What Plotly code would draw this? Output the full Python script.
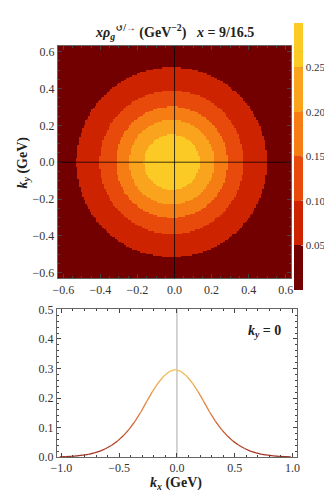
import numpy as np
import plotly.graph_objects as go

# ---- data ----
# radial profile x*rho (GeV^-2) vs |k| (GeV), read from the k_y = 0 cut and ring radii
r_prof = [0.00, 0.05, 0.10, 0.15, 0.20, 0.25, 0.30, 0.35, 0.40, 0.45, 0.50,
          0.55, 0.60, 0.65, 0.70, 0.75, 0.80, 0.85, 0.90, 0.95, 1.00]
f_prof = [0.296, 0.290, 0.274, 0.250, 0.220, 0.186, 0.151, 0.120, 0.094, 0.072, 0.054,
          0.040, 0.029, 0.020, 0.014, 0.0095, 0.0063, 0.0040, 0.0025, 0.0015, 0.0009]
center_kx = -0.015          # distribution centre (slightly left of 0)
kx_line = [-r for r in r_prof[::-1]] + r_prof[1:]
f_line = f_prof[::-1] + f_prof[1:]

band_levels = [0.0, 0.05, 0.10, 0.15, 0.20, 0.25, 0.30]
band_colors = ["#730000", "#cd2300", "#e84a0b", "#f57d14", "#f9a41c", "#fcca24"]
cbar_ticks = [0.05, 0.10, 0.15, 0.20, 0.25]
hm_ticks = [-0.6, -0.4, -0.2, 0.0, 0.2, 0.4, 0.6]

W, H = 332, 493
FONT = "Liberation Serif, Tinos, Times New Roman, DejaVu Serif, serif"

# ---- heatmap grid built from the read profile ----
g = np.linspace(-0.63, 0.63, 150)
KX, KY = np.meshgrid(g, g)
R = np.sqrt((KX - center_kx) ** 2 + KY ** 2)
Z = np.interp(R, r_prof, f_prof)

cs = []
zmax = band_levels[-1]
for i, c in enumerate(band_colors):
    cs.append([band_levels[i] / zmax, c])
    cs.append([band_levels[i + 1] / zmax, c])

fig = go.Figure()
fig.add_trace(go.Heatmap(
    x=g, y=g, z=Z, zmin=0, zmax=zmax, colorscale=cs, zsmooth=False,
    xaxis="x", yaxis="y",
    colorbar=dict(
        x=288 / W, xanchor="left", thickness=9, xpad=0, ypad=0,
        y=1 - 145.5 / H, yanchor="middle", len=275 / H, lenmode="fraction",
        tickvals=cbar_ticks, ticktext=[f"{v:.2f}" for v in cbar_ticks],
        ticks="inside", ticklen=2, tickcolor="#999", outlinewidth=0,
        tickfont=dict(family=FONT, size=11, color="#333"),
    ),
    hoverinfo="skip",
))

# ---- line: gradient coloured segments ----
def lerp(c1, c2, t):
    a = [int(c1[i:i + 2], 16) for i in (1, 3, 5)]
    b = [int(c2[i:i + 2], 16) for i in (1, 3, 5)]
    return "rgb(%d,%d,%d)" % tuple(round(a[k] + (b[k] - a[k]) * t) for k in range(3))

def line_color(v):
    t = min(max(v / 0.3, 0), 1)
    if t < 0.5:
        return lerp("#a02c1e", "#e0763a", t / 0.5)
    return lerp("#e0763a", "#f0c45e", (t - 0.5) / 0.5)

kx_plot = [k + center_kx for k in kx_line]
for i in range(len(kx_plot) - 1):
    fig.add_trace(go.Scatter(
        x=kx_plot[i:i + 2], y=f_line[i:i + 2], mode="lines",
        line=dict(color=line_color((f_line[i] + f_line[i + 1]) / 2), width=1.3),
        xaxis="x2", yaxis="y2", showlegend=False, hoverinfo="skip",
    ))

tickfont = dict(family=FONT, size=12, color="#333")
frame = dict(showline=True, linecolor="#666", linewidth=1, mirror="allticks",
             ticks="inside", ticklen=4, tickcolor="#444", tickfont=tickfont,
             showgrid=False, zeroline=False)

fig.update_layout(
    width=W, height=H, margin=dict(l=0, r=0, t=0, b=0),
    paper_bgcolor="white", plot_bgcolor="white", showlegend=False,
    font=dict(family=FONT),
    xaxis=dict(domain=[45 / W, 285 / W], range=[-0.63, 0.63],
               tickvals=hm_ticks, ticktext=[f"{v:.1f}".replace("-", "−") for v in hm_ticks],
               minor=dict(ticks="inside", ticklen=2, dtick=0.05, tickcolor="#444"),
               anchor="y", **frame),
    yaxis=dict(domain=[1 - 271 / H, 1 - 32 / H], range=[-0.63, 0.63],
               tickvals=hm_ticks, ticktext=[f"{v:.1f}".replace("-", "−") for v in hm_ticks],
               minor=dict(ticks="inside", ticklen=2, dtick=0.05, tickcolor="#444"),
               anchor="x", **frame),
    xaxis2=dict(domain=[44 / W, 291 / W], range=[-1.04, 1.04],
                tickvals=[-1.0, -0.5, 0.0, 0.5, 1.0],
                ticktext=["−1.0", "−0.5", "0.0", "0.5", "1.0"],
                minor=dict(ticks="inside", ticklen=2, dtick=0.1, tickcolor="#444"),
                anchor="y2", **frame),
    yaxis2=dict(domain=[1 - 455 / H, 1 - 303 / H], range=[0, 0.5],
                tickvals=[0.0, 0.1, 0.2, 0.3, 0.4, 0.5],
                ticktext=["0.0", "0.1", "0.2", "0.3", "0.4", "0.5"],
                minor=dict(ticks="inside", ticklen=2, dtick=0.02, tickcolor="#444"),
                anchor="x2", **frame),
    shapes=[
        dict(type="line", xref="x", yref="paper", x0=0, x1=0,
             y0=1 - 271 / H, y1=1 - 32 / H, line=dict(color="rgba(0,0,0,0.75)", width=1)),
        dict(type="line", xref="paper", yref="y", x0=45 / W, x1=285 / W,
             y0=0, y1=0, line=dict(color="rgba(0,0,0,0.75)", width=1)),
        dict(type="line", xref="x2", yref="paper", x0=0, x1=0,
             y0=1 - 455 / H, y1=1 - 303 / H, line=dict(color="#aaa", width=1), layer="below"),
    ],
    annotations=[
        dict(text="<b><i>x</i><i>ρ</i><sub><i>g</i></sub><sup>↺/→</sup> (GeV<sup>−2</sup>)   <i>x</i> = 9/16.5</b>",
             xref="paper", yref="paper", x=165 / W, y=1 - 17 / H, showarrow=False,
             xanchor="center", yanchor="middle", font=dict(family=FONT, size=14, color="#222")),
        dict(text="<b><i>k</i><sub><i>y</i></sub> (GeV)</b>", textangle=-90,
             xref="paper", yref="paper", x=10 / W, y=1 - 152 / H, showarrow=False,
             xanchor="center", yanchor="middle", font=dict(family=FONT, size=14, color="#222")),
        dict(text="<b><i>k</i><sub><i>x</i></sub> (GeV)</b>",
             xref="paper", yref="paper", x=166 / W, y=1 - 482 / H, showarrow=False,
             xanchor="center", yanchor="middle", font=dict(family=FONT, size=14, color="#222")),
        dict(text="<b><i>k</i><sub><i>y</i></sub> = 0</b>",
             xref="paper", yref="paper", x=277 / W, y=1 - 326 / H, showarrow=False,
             xanchor="right", yanchor="middle", font=dict(family=FONT, size=14, color="#222")),
    ],
)

fig.write_html("out.html")
